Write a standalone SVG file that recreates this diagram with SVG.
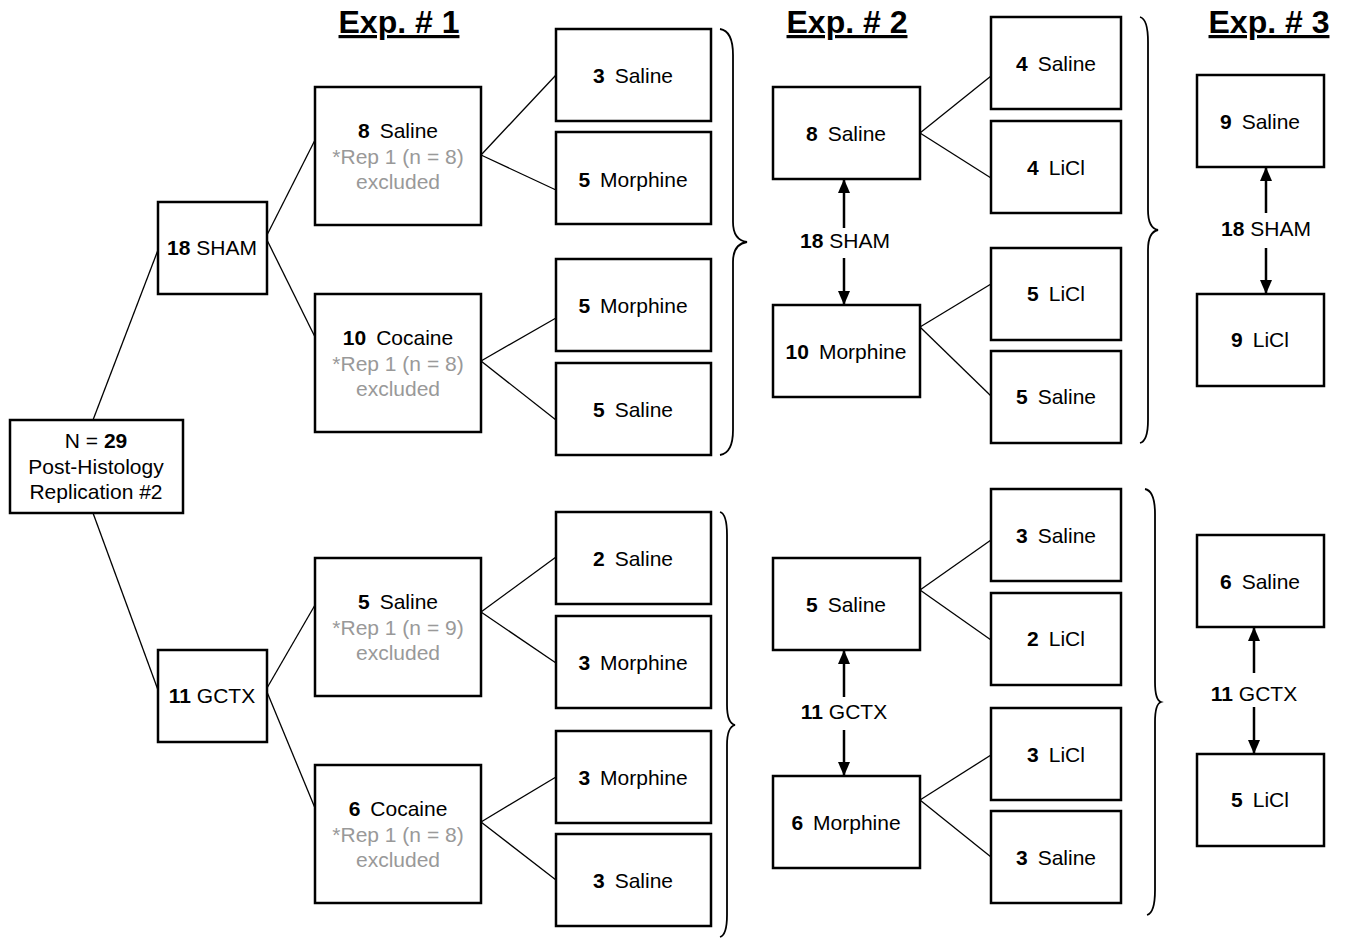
<svg xmlns="http://www.w3.org/2000/svg" width="1347" height="938" viewBox="0 0 1347 938">
<style>
text{font-family:"Liberation Sans",Arial,sans-serif;font-size:21px;fill:#000;text-anchor:middle}
.b{font-weight:bold}
.g{fill:#999}
.t{font-size:32px;font-weight:bold;text-decoration:underline}
rect{fill:#fff;stroke:#000;stroke-width:2.5}
.c line,.c path{stroke:#000;stroke-width:1.3;fill:none}
.c .a{stroke-width:2.5}
.br{stroke:#000;stroke-width:1.8;fill:none}
</style>
<defs>
<marker id="ah" markerUnits="userSpaceOnUse" markerWidth="14" markerHeight="14" viewBox="0 0 14 14" refX="13" refY="7" orient="auto">
<path d="M0,1 L14,7 L0,13 Z" fill="#000"/>
</marker>
</defs>
<rect x="0" y="0" width="1347" height="938" style="stroke:none;fill:#fff"/>
<g id="titles">
<text class="t" x="399" y="33">Exp. # 1</text>
<text class="t" x="847" y="33">Exp. # 2</text>
<text class="t" x="1269" y="33">Exp. # 3</text>
</g>
<g class="c" id="connectors">
<line x1="93" y1="420" x2="158" y2="250"/>
<line x1="93" y1="513" x2="158" y2="690"/>
<line x1="267" y1="235" x2="315" y2="140"/>
<line x1="267" y1="240" x2="315" y2="337"/>
<line x1="267" y1="688" x2="315" y2="605"/>
<line x1="267" y1="692" x2="315" y2="808"/>
<line x1="481" y1="155" x2="556" y2="75"/>
<line x1="481" y1="155" x2="556" y2="190"/>
<line x1="481" y1="361" x2="556" y2="318"/>
<line x1="481" y1="361" x2="556" y2="420"/>
<line x1="481" y1="612" x2="556" y2="557"/>
<line x1="481" y1="612" x2="556" y2="663"/>
<line x1="481" y1="822" x2="556" y2="777"/>
<line x1="481" y1="822" x2="556" y2="880"/>
<line x1="920" y1="133" x2="991" y2="76"/>
<line x1="920" y1="133" x2="991" y2="178"/>
<line x1="920" y1="327" x2="991" y2="284"/>
<line x1="920" y1="327" x2="991" y2="396"/>
<line x1="920" y1="590" x2="991" y2="540"/>
<line x1="920" y1="590" x2="991" y2="640"/>
<line x1="920" y1="800" x2="991" y2="755"/>
<line x1="920" y1="800" x2="991" y2="857"/>
<line class="a" x1="844" y1="228" x2="844" y2="180" marker-end="url(#ah)"/>
<line class="a" x1="844" y1="258" x2="844" y2="304" marker-end="url(#ah)"/>
<line class="a" x1="844" y1="697" x2="844" y2="651" marker-end="url(#ah)"/>
<line class="a" x1="844" y1="730" x2="844" y2="775" marker-end="url(#ah)"/>
<line class="a" x1="1266" y1="213" x2="1266" y2="168" marker-end="url(#ah)"/>
<line class="a" x1="1266" y1="248" x2="1266" y2="293" marker-end="url(#ah)"/>
<line class="a" x1="1254" y1="673" x2="1254" y2="628" marker-end="url(#ah)"/>
<line class="a" x1="1254" y1="707" x2="1254" y2="753" marker-end="url(#ah)"/>
</g>
<g id="braces">
<path class="br" d="M720,29 Q733,31 733,55 L733,222 Q733,240 747,242 Q733,244 733,262 L733,430 Q733,453 720,455"/>
<path class="br" d="M720,512 Q727,514 727,535 L727,705 Q727,723 735,725 Q727,727 727,745 L727,915 Q727,935 720,937"/>
<path class="br" d="M1140,17 Q1148,19 1148,42 L1148,210 Q1148,228 1158,230 Q1148,232 1148,250 L1148,420 Q1148,441 1140,443"/>
<path class="br" d="M1145,489 Q1155,491 1155,514 L1155,682 Q1155,700 1161,702 Q1155,704 1155,722 L1155,890 Q1155,913 1147,915"/>
</g>
<g id="root"><rect x="10" y="420" width="173" height="93"/>
<text x="96" y="448">N = <tspan class="b">29</tspan></text>
<text x="96" y="474">Post-Histology</text>
<text x="96" y="499">Replication #2</text></g>
<g id="sham"><rect x="158" y="202" width="109" height="92"/><text x="212" y="255"><tspan class="b">18</tspan> SHAM</text></g>
<g id="gctx"><rect x="158" y="650" width="109" height="92"/><text x="212" y="703"><tspan class="b">11</tspan> GCTX</text></g>
<g id="e1-sham-saline"><rect x="315" y="87" width="166" height="138"/>
<text x="398" y="138"><tspan class="b">8</tspan><tspan dx="10">Saline</tspan></text>
<text class="g" x="398" y="164">*Rep 1 (n = 8)</text><text class="g" x="398" y="189">excluded</text></g>
<g id="e1-sham-cocaine"><rect x="315" y="294" width="166" height="138"/>
<text x="398" y="345"><tspan class="b">10</tspan><tspan dx="10">Cocaine</tspan></text>
<text class="g" x="398" y="371">*Rep 1 (n = 8)</text><text class="g" x="398" y="396">excluded</text></g>
<g id="e1-gctx-saline"><rect x="315" y="558" width="166" height="138"/>
<text x="398" y="609"><tspan class="b">5</tspan><tspan dx="10">Saline</tspan></text>
<text class="g" x="398" y="635">*Rep 1 (n = 9)</text><text class="g" x="398" y="660">excluded</text></g>
<g id="e1-gctx-cocaine"><rect x="315" y="765" width="166" height="138"/>
<text x="398" y="816"><tspan class="b">6</tspan><tspan dx="10">Cocaine</tspan></text>
<text class="g" x="398" y="842">*Rep 1 (n = 8)</text><text class="g" x="398" y="867">excluded</text></g>
<g id="e1r1"><rect x="556" y="29" width="155" height="92"/><text x="633" y="83"><tspan class="b">3</tspan><tspan dx="10">Saline</tspan></text></g>
<g id="e1r2"><rect x="556" y="132" width="155" height="92"/><text x="633" y="187"><tspan class="b">5</tspan><tspan dx="10">Morphine</tspan></text></g>
<g id="e1r3"><rect x="556" y="259" width="155" height="92"/><text x="633" y="313"><tspan class="b">5</tspan><tspan dx="10">Morphine</tspan></text></g>
<g id="e1r4"><rect x="556" y="363" width="155" height="92"/><text x="633" y="417"><tspan class="b">5</tspan><tspan dx="10">Saline</tspan></text></g>
<g id="e1r5"><rect x="556" y="512" width="155" height="92"/><text x="633" y="566"><tspan class="b">2</tspan><tspan dx="10">Saline</tspan></text></g>
<g id="e1r6"><rect x="556" y="616" width="155" height="92"/><text x="633" y="670"><tspan class="b">3</tspan><tspan dx="10">Morphine</tspan></text></g>
<g id="e1r7"><rect x="556" y="731" width="155" height="92"/><text x="633" y="785"><tspan class="b">3</tspan><tspan dx="10">Morphine</tspan></text></g>
<g id="e1r8"><rect x="556" y="834" width="155" height="92"/><text x="633" y="888"><tspan class="b">3</tspan><tspan dx="10">Saline</tspan></text></g>
<g id="e2m1"><rect x="773" y="87" width="147" height="92"/><text x="846" y="141"><tspan class="b">8</tspan><tspan dx="10">Saline</tspan></text></g>
<g id="e2m2"><rect x="773" y="305" width="147" height="92"/><text x="846" y="359"><tspan class="b">10</tspan><tspan dx="10">Morphine</tspan></text></g>
<g id="e2m3"><rect x="773" y="558" width="147" height="92"/><text x="846" y="612"><tspan class="b">5</tspan><tspan dx="10">Saline</tspan></text></g>
<g id="e2m4"><rect x="773" y="776" width="147" height="92"/><text x="846" y="830"><tspan class="b">6</tspan><tspan dx="10">Morphine</tspan></text></g>
<g id="e2-sham-label"><text x="845" y="248"><tspan class="b">18</tspan> SHAM</text></g>
<g id="e2-gctx-label"><text x="844" y="719"><tspan class="b">11</tspan> GCTX</text></g>
<g id="e2r1"><rect x="991" y="17" width="130" height="92"/><text x="1056" y="71"><tspan class="b">4</tspan><tspan dx="10">Saline</tspan></text></g>
<g id="e2r2"><rect x="991" y="121" width="130" height="92"/><text x="1056" y="175"><tspan class="b">4</tspan><tspan dx="10">LiCl</tspan></text></g>
<g id="e2r3"><rect x="991" y="248" width="130" height="92"/><text x="1056" y="301"><tspan class="b">5</tspan><tspan dx="10">LiCl</tspan></text></g>
<g id="e2r4"><rect x="991" y="351" width="130" height="92"/><text x="1056" y="404"><tspan class="b">5</tspan><tspan dx="10">Saline</tspan></text></g>
<g id="e2r5"><rect x="991" y="489" width="130" height="92"/><text x="1056" y="543"><tspan class="b">3</tspan><tspan dx="10">Saline</tspan></text></g>
<g id="e2r6"><rect x="991" y="593" width="130" height="92"/><text x="1056" y="646"><tspan class="b">2</tspan><tspan dx="10">LiCl</tspan></text></g>
<g id="e2r7"><rect x="991" y="708" width="130" height="92"/><text x="1056" y="762"><tspan class="b">3</tspan><tspan dx="10">LiCl</tspan></text></g>
<g id="e2r8"><rect x="991" y="811" width="130" height="92"/><text x="1056" y="865"><tspan class="b">3</tspan><tspan dx="10">Saline</tspan></text></g>
<g id="e3a"><rect x="1197" y="75" width="127" height="92"/><text x="1260" y="129"><tspan class="b">9</tspan><tspan dx="10">Saline</tspan></text></g>
<g id="e3b"><rect x="1197" y="294" width="127" height="92"/><text x="1260" y="347"><tspan class="b">9</tspan><tspan dx="10">LiCl</tspan></text></g>
<g id="e3c"><rect x="1197" y="535" width="127" height="92"/><text x="1260" y="589"><tspan class="b">6</tspan><tspan dx="10">Saline</tspan></text></g>
<g id="e3d"><rect x="1197" y="754" width="127" height="92"/><text x="1260" y="807"><tspan class="b">5</tspan><tspan dx="10">LiCl</tspan></text></g>
<g id="e3-sham-label"><text x="1266" y="236"><tspan class="b">18</tspan> SHAM</text></g>
<g id="e3-gctx-label"><text x="1254" y="701"><tspan class="b">11</tspan> GCTX</text></g>
</svg>
